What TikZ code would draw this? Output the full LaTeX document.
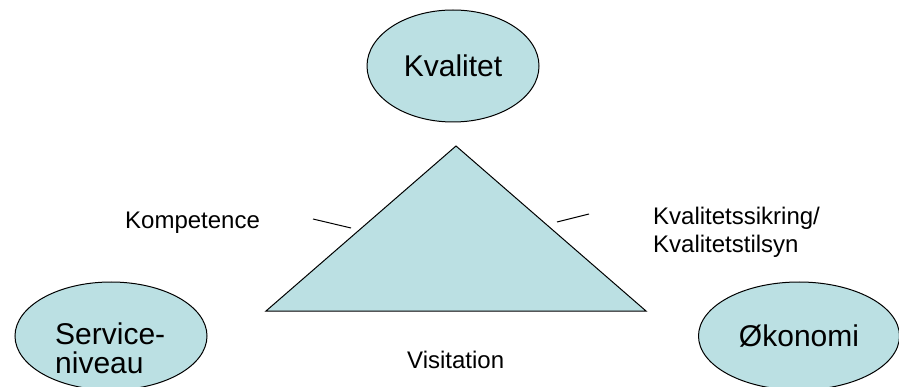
\documentclass[tikz,border=0pt]{standalone}
\usepackage{fontspec}
\setmainfont{Liberation Sans}
\usetikzlibrary{shapes.geometric}
\definecolor{boxfill}{RGB}{187,224,227}
\begin{document}
\begin{tikzpicture}[x=1pt,y=-1pt,
  oval/.style={ellipse,draw=black,fill=boxfill,line width=1pt,inner sep=0pt,
    font=\fontsize{30}{30}\selectfont,align=left},
  bigtxt/.style={font=\fontsize{30}{29}\selectfont,inner sep=0pt,align=left,text=black},
  lbl/.style={font=\fontsize{24}{28}\selectfont,inner sep=0pt,align=left,text=black},
  edge/.style={draw=black,line width=1pt}]
\useasboundingbox (0,0) rectangle (899,387);
\clip (0,0) rectangle (899,387);
\node[oval,minimum width=172pt,minimum height=112pt] (kval) at (453,66) {Kvalitet};
\node[oval,minimum width=192pt,minimum height=108pt] (serv) at (111,336) {};
\node[bigtxt,anchor=base west] (servt) at (55,373) {Service-\\niveau};
\node[oval,minimum width=201pt,minimum height=108pt] (okon) at (799,336) {Økonomi};
\coordinate (apex) at (456,146);
\coordinate (bl) at (266,311);
\coordinate (br) at (646,311);
\filldraw[edge,fill=boxfill,line join=miter] (apex) -- (br) -- (bl) -- cycle;
\coordinate (lt1) at (313,219);
\coordinate (lt2) at (351,228);
\coordinate (rt1) at (557,222);
\coordinate (rt2) at (589,214);
\draw[edge] (lt1) -- (lt2);
\draw[edge] (rt1) -- (rt2);
\node[lbl,anchor=base west] (komp) at (125,229) {Kompetence};
\node[lbl,anchor=base west] (ksik) at (653,225) {Kvalitetssikring/};
\node[lbl,anchor=base west] (ktil) at (653,253) {Kvalitetstilsyn};
\node[lbl,anchor=base west] (visi) at (407,368) {Visitation};
\end{tikzpicture}
\end{document}
